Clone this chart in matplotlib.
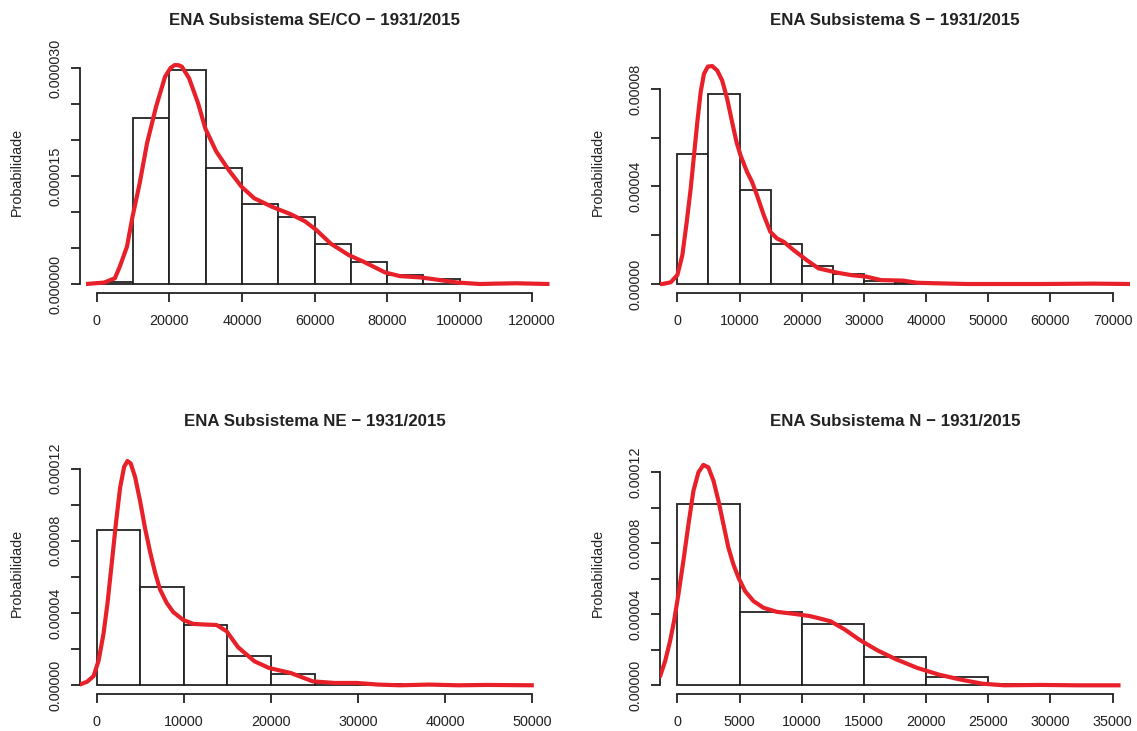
#! /usr/bin/env python3
"""
ENA histograms with density curves, one panel per subsystem
"""

import matplotlib
matplotlib.use("Agg")
import matplotlib.pyplot as plt
from matplotlib import rcParams as rc
import numpy as np

# --- data ----------------------------------------------------------------
titles = [
    "ENA Subsistema SE/CO \u2212 1931/2015",
    "ENA Subsistema S \u2212 1931/2015",
    "ENA Subsistema NE \u2212 1931/2015",
    "ENA Subsistema N \u2212 1931/2015",
]

# histogram break points and bar densities (x 1e-6)
seco_breaks = np.arange(0, 100001, 10000)
seco_hist = [0.25, 23.0, 29.7, 16.1, 11.1, 9.3, 5.6, 3.0, 1.3, 0.7]
s_breaks = np.arange(0, 40001, 5000)
s_hist = [53.3, 77.9, 38.6, 16.5, 7.4, 4.1, 1.4, 0.3]
ne_breaks = np.arange(0, 35001, 5000)
ne_hist = [86.2, 54.6, 33.6, 16.1, 6.3, 1.4, 0.5]
n_breaks = np.arange(0, 30001, 5000)
n_hist = [102.3, 41.3, 34.6, 15.8, 4.9, 0.6]

# density curves: x (ENA) and y (x 1e-6)
seco_kx = [-3000, 2000, 4960, 6300, 8300, 9800, 11800, 13800, 16300, 18800,
           20300, 21400, 22400, 23400, 25400, 27900, 29900, 32900, 36400,
           39900, 43400, 48400, 53400, 57400, 60500, 64500, 69500, 73500,
           79500, 83500, 89500, 94500, 99500, 105600, 110000, 115600, 120000,
           124800]
seco_ky = [0.0, 0.2, 0.8, 2.4, 5.2, 9.3, 14.0, 19.5, 24.6, 28.8,
           30.0, 30.4, 30.4, 30.2, 28.6, 25.1, 21.6, 18.4, 15.8,
           13.5, 11.9, 10.7, 9.7, 8.7, 7.5, 5.6, 4.0, 3.1,
           1.6, 1.1, 0.9, 0.55, 0.2, 0.0, 0.05, 0.1, 0.05,
           0.0]
s_kx = [-2850, -2400, -1070, 0, 800, 1500, 2140, 2670, 3200, 3740, 4270,
        4900, 5600, 6400, 7200, 8000, 8800, 9500, 10150, 11200, 12000,
        12800, 13900, 14950, 16000, 17100, 18700, 20800, 22700, 25800,
        28100, 30400, 32760, 36250, 38600, 41500, 46700, 58400, 67100,
        72800]
s_ky = [0.0, 0.0, 0.7, 3.7, 11.9, 25.5, 39.2, 52.8, 66.4, 78.7, 86.2,
        89.2, 89.4, 87.6, 83.5, 76.0, 66.4, 58.3, 52.8, 46.0, 41.9,
        36.4, 28.2, 21.4, 18.7, 17.3, 13.9, 9.8, 6.4, 4.6,
        3.6, 3.0, 1.6, 1.4, 0.5, 0.3, 0.0, 0.0, 0.15,
        0.0]
ne_kx = [-2050, -1985, -1145, -380, 190, 760, 1220, 1720, 2210, 2670, 3130,
         3510, 3890, 4390, 4960, 5530, 6110, 6680, 7250, 8020, 8780, 9920,
         11070, 12600, 13740, 14890, 16220, 18100, 19770, 22280, 24790,
         27300, 29810, 32320, 34820, 38170, 41510, 44860, 50200]
ne_ky = [0.0, 0.4, 1.9, 5.1, 13.6, 28.6, 45.6, 68.2, 90.8, 109.6, 121.0,
         124.2, 122.8, 115.3, 102.1, 87.0, 73.9, 62.5, 53.1, 45.6, 40.5, 36.2,
         34.0, 33.6, 33.4, 30.0, 21.1, 13.3, 9.6, 6.8, 2.2,
         1.3, 1.3, 0.4, 0.0, 0.4, 0.0, 0.2, 0.0]
n_kx = [-1430, -1390, -990, -590, -270, 80, 480, 890, 1290, 1690, 2090,
        2490, 2900, 3300, 3700, 4100, 4500, 4910, 5440, 6110, 6920, 7990,
        9330, 10670, 11420, 12310, 13470, 14630, 16090, 17540, 19290, 21040,
        22780, 24530, 26270, 29180, 32090, 35640]
n_ky = [5.1, 5.1, 13.6, 24.9, 36.2, 51.2, 70.1, 90.8, 109.6, 120.0, 124.2,
        122.8, 115.3, 104.0, 90.8, 77.6, 68.2, 60.7, 53.1, 47.5, 43.7, 41.4,
        40.3, 39.0, 37.7, 36.1, 31.4, 25.7, 19.7, 14.8, 9.8, 6.0,
        3.2, 0.9, 0.0, 0.2, 0.0, 0.0]

# axis ranges (R style: x from 0 to xmax, y from 0 to ymax, 4 % padding)
x_max = [120000, 70000, 50000, 35000]
x_step = [20000, 10000, 10000, 5000]
y_max = [31.25, 92.3, 124.6, 126.8]
y_tick_top = [30, 80, 120, 120]
y_tick_step = [5, 20, 20, 20]
y_label_step = [15, 40, 40, 40]
y_label_fmt = ["{:.6f}", "{:.5f}", "{:.5f}", "{:.5f}"]

breaks = [seco_breaks, s_breaks, ne_breaks, n_breaks]
hists = [seco_hist, s_hist, ne_hist, n_hist]
kxs = [seco_kx, s_kx, ne_kx, n_kx]
kys = [seco_ky, s_ky, ne_ky, n_ky]


def main():
    rc["font.family"] = ["Liberation Sans", "DejaVu Sans"]
    black, red = "#222222", "#E8202A"
    W, H = 1137, 731
    fig = plt.figure(figsize=(W / 100, H / 100), dpi=100)
    # plot regions in pixels: left, top
    lefts = [79.5, 660, 79.5, 660]
    tops = [50, 50, 451.3, 451.3]
    pw, ph = 470, 243
    for i in range(4):
        ax = fig.add_axes([lefts[i] / W, 1 - (tops[i] + ph) / H, pw / W, ph / H])
        e = breaks[i]
        h = np.array(hists[i]) * 1e-6
        ax.bar(e[:-1], h, width=np.diff(e), align="edge", facecolor="white",
               edgecolor=black, linewidth=1.3, zorder=2)
        ax.plot(kxs[i], np.array(kys[i]) * 1e-6, color=red, linewidth=3.0,
                solid_joinstyle="round", solid_capstyle="butt", zorder=3)
        xm = x_max[i]
        ax.set_xlim(-0.04 * xm, 1.04 * xm)
        ym = y_max[i] * 1e-6
        ax.set_ylim(-0.04 * ym, 1.04 * ym)
        xt = np.arange(0, xm + 1, x_step[i])
        ax.set_xticks(xt)
        ax.set_xticklabels([str(v) for v in xt])
        yt = np.arange(0, y_tick_top[i] + 0.1, y_tick_step[i])
        ax.set_yticks(yt * 1e-6)
        labels = []
        for v in yt:
            if abs(v / y_label_step[i] - round(v / y_label_step[i])) < 1e-9:
                labels.append(y_label_fmt[i].format(v * 1e-6))
            else:
                labels.append("")
        ax.set_yticklabels(labels, rotation=90, va="center")
        for side in ["top", "right"]:
            ax.spines[side].set_visible(False)
        ax.spines["bottom"].set_bounds(0, xm)
        ax.spines["left"].set_bounds(0, y_tick_top[i] * 1e-6)
        for side in ["bottom", "left"]:
            ax.spines[side].set_linewidth(1.3)
            ax.spines[side].set_color(black)
        ax.tick_params(axis="x", direction="out", length=6.5, width=1.3,
                       color=black, labelsize=10.4, pad=8.5, labelcolor=black)
        ax.tick_params(axis="y", direction="out", length=6.5, width=1.3,
                       color=black, labelsize=10.4, pad=6.0, labelcolor=black)
        ax.set_ylabel("Probabilidade", fontsize=10.4, color=black)
        ax.yaxis.label.set_va("center")
        ax.yaxis.set_label_coords(-0.133, 0.5)
        ax.set_title(titles[i], fontsize=12.2, fontweight="bold", color=black,
                     pad=18.0)
        ax.patch.set_visible(False)
    fig.savefig("out.png", dpi=100)


if __name__ == "__main__":
    main()
